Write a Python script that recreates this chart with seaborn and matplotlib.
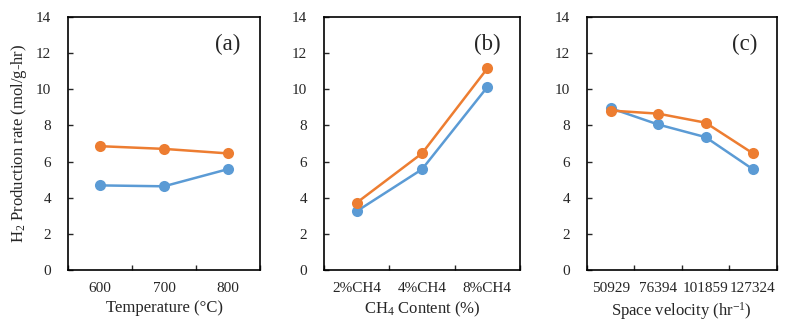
import pandas as pd
import matplotlib
matplotlib.use("Agg")
import matplotlib.pyplot as plt
import seaborn as sns

# values
temp_labels = ["600", "700", "800"]
temp_blue = [4.68, 4.63, 5.58]
temp_orange = [6.85, 6.70, 6.45]

ch4_labels = ["2%CH4", "4%CH4", "8%CH4"]
ch4_blue = [3.25, 5.57, 10.12]
ch4_orange = [3.72, 6.45, 11.15]

sv_labels = ["50929", "76394", "101859", "127324"]
sv_blue = [8.95, 8.05, 7.35, 5.57]
sv_orange = [8.82, 8.65, 8.15, 6.45]

panel_tags = ["(a)", "(b)", "(c)"]
x_titles = ["Temperature (°C)", "CH$_4$ Content (%)", "Space velocity (hr$^{-1}$)"]

sns.set_style("ticks")
plt.rcParams["font.family"] = ["Liberation Serif", "DejaVu Serif"]
plt.rcParams["mathtext.fontset"] = "custom"
plt.rcParams["mathtext.rm"] = "Liberation Serif"
plt.rcParams["mathtext.default"] = "regular"

blue = "#5B9BD5"
orange = "#ED7D31"

fig = plt.figure(figsize=(7.87, 3.24), dpi=100)
boxes = [[0.0864, 0.1667, 0.2440, 0.781],
         [0.4117, 0.1667, 0.2490, 0.781],
         [0.7459, 0.1667, 0.2410, 0.781]]

panels = [(temp_labels, temp_blue, temp_orange),
          (ch4_labels, ch4_blue, ch4_orange),
          (sv_labels, sv_blue, sv_orange)]

for i, (labels, b_vals, o_vals) in enumerate(panels):
    ax = fig.add_axes(boxes[i])
    df = pd.DataFrame({
        "x": labels + labels,
        "y": b_vals + o_vals,
        "series": ["blue"] * len(labels) + ["orange"] * len(labels),
    })
    sns.lineplot(data=df, x="x", y="y", hue="series", palette={"blue": blue, "orange": orange},
                 marker="o", markersize=8, markeredgewidth=0, linewidth=1.8,
                 sort=False, legend=False, ax=ax)
    n = len(labels)
    ax.set_xlim(-0.5, n - 0.5)
    ax.set_ylim(0, 14)
    ax.set_yticks(range(0, 15, 2))
    ax.set_xticks(range(n))
    ax.set_xticklabels(labels)
    ax.set_xticks([k - 0.5 for k in range(n + 1)], minor=True)
    ax.tick_params(axis="x", which="major", length=0, pad=9, labelsize=11)
    ax.tick_params(axis="x", which="minor", direction="in", length=3.5, width=1)
    ax.tick_params(axis="y", direction="in", length=3.5, width=1, labelsize=11, pad=12)
    for s in ax.spines.values():
        s.set_visible(True)
        s.set_linewidth(1.2)
        s.set_color("black")
    ax.set_xlabel(x_titles[i], fontsize=12, labelpad=3)
    if i == 0:
        ax.set_ylabel("H$_2$ Production rate (mol/g-hr)", fontsize=12, labelpad=5)
    else:
        ax.set_ylabel("")
    ax.text(0.90, 0.89, panel_tags[i], transform=ax.transAxes, ha="right", va="center", fontsize=16.5)

fig.savefig("out.png", dpi=100)
